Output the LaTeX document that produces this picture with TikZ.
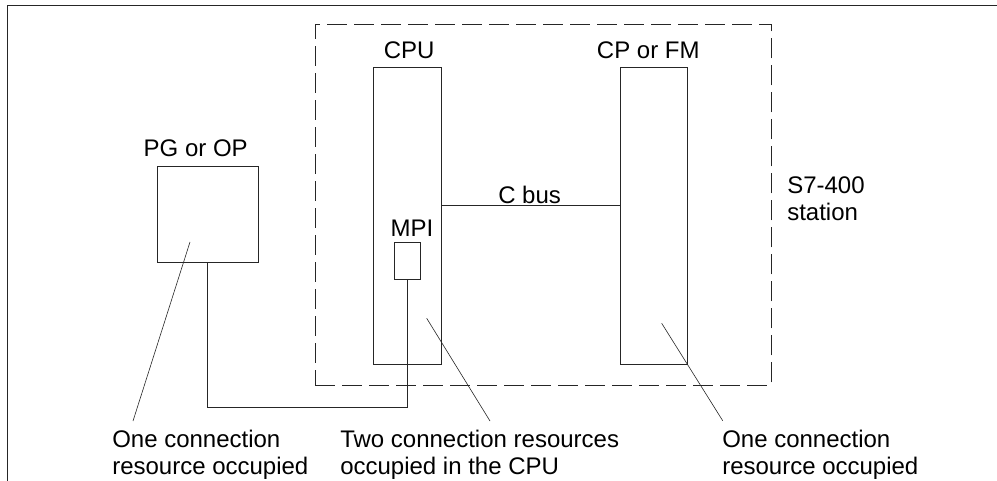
\documentclass[tikz,border=0pt]{standalone}
\usepackage{fontspec}
\setmainfont{Liberation Sans}
\usetikzlibrary{positioning}

\begin{document}
\begin{tikzpicture}[x=0.75pt,y=-0.75pt,
      every node/.style={font=\fontsize{18}{20}\selectfont},
      modul/.style={draw=black!85,line width=0.6pt,inner sep=0pt},
      station/.style={draw=black!85,line width=0.6pt,dash pattern=on 15pt off 5.25pt,inner sep=0pt},
      lbl/.style={inner sep=0pt},
      txt/.style={inner sep=0pt,align=left,anchor=north west},
      wire/.style={draw=black!85,line width=0.6pt},
      lead/.style={draw=black!85,line width=0.45pt}]
    \useasboundingbox (0,0) rectangle (997,481);
    % frame
    \draw[black!85,line width=0.7pt] (7.5,481) -- (7.5,5.5);
    \draw[black!85,line width=1.1pt] (7.5,5.5) -- (997,5.5);
    % S7-400 station
    \node[station,minimum width=342.2pt,minimum height=270.75pt] (st) at (543.15,204.5) {};
    \node[txt] (stlbl) at (787,176.5) {S7-400\\station};
    % modules
    \node[modul,minimum width=76.1pt,minimum height=72.5pt] (pg) at (207.75,214.35) {};
    \node[modul,minimum width=50.8pt,minimum height=222.2pt] (cpu) at (407.15,215.85) {};
    \node[modul,minimum width=50.5pt,minimum height=222.2pt] (cp) at (653.65,215.85) {};
    \node[modul,minimum width=19.5pt,minimum height=27.75pt] (mpi) at (407.3,260.8) {};
    \node[lbl,above=6.5pt of pg,xshift=-9pt] (pglbl) {PG or OP};
    \node[lbl,above=6.5pt of cpu,xshift=1.5pt] (cpulbl) {CPU};
    \node[lbl,above=6.5pt of cp,xshift=-4pt] (cplbl) {CP or FM};
    \node[lbl,above=4pt of mpi,xshift=3.5pt] (mpilbl) {MPI};
    % C bus and MPI cable
    \coordinate (cbus) at (0,205.7);
    \coordinate (cable) at (0,407.7);
    \draw[wire] (cpu.east |- cbus) -- (cp.west |- cbus);
    \node[lbl,anchor=base west] (cbuslbl) at (498,203.5) {C bus};
    \draw[wire] (pg.south) |- (cable -| mpi.south) -- (mpi.south);
    % notes
    \node[txt] (onepg) at (112,430) {One connection\\resource occupied};
    \node[txt] (twocpu) at (340,430) {Two connection resources\\occupied in the CPU};
    \node[txt] (onecp) at (722,430) {One connection\\resource occupied};
    \coordinate (pgpt) at (190,242);     \coordinate (pgend) at (133,421);
    \coordinate (cpupt) at (426.7,318.3); \coordinate (cpuend) at (490,421);
    \coordinate (cppt) at (661.7,323.3);  \coordinate (cpend) at (722.7,420.7);
    \draw[lead] (pgpt) -- (pgend);
    \draw[lead] (cpupt) -- (cpuend);
    \draw[lead] (cppt) -- (cpend);
\end{tikzpicture}
\end{document}
